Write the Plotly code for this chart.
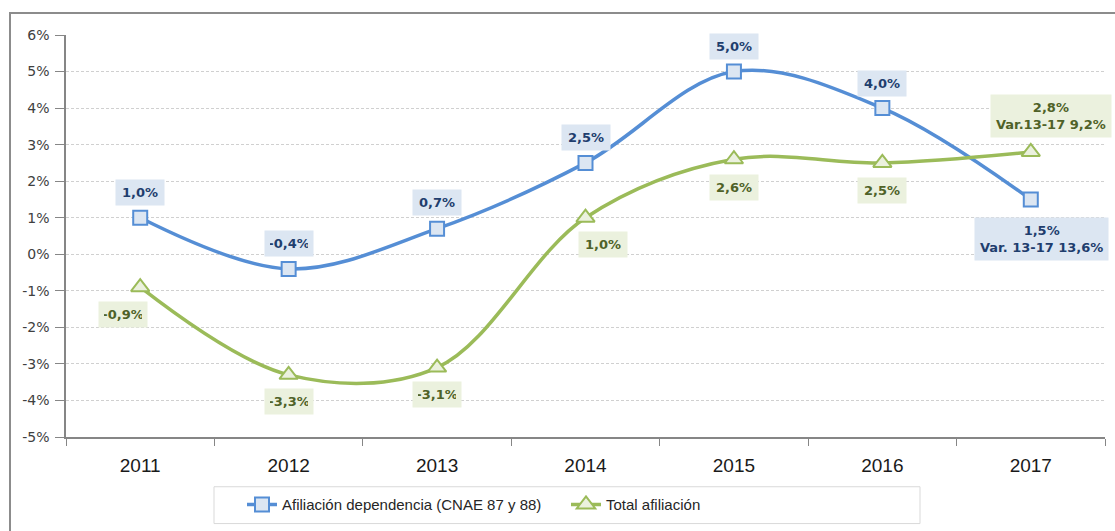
import plotly.graph_objects as go

# Year-over-year change in social security affiliation (%)
years = ["2011", "2012", "2013", "2014", "2015", "2016", "2017"]
dependencia = [1.0, -0.4, 0.7, 2.5, 5.0, 4.0, 1.5]
total = [-0.9, -3.3, -3.1, 1.0, 2.6, 2.5, 2.8]
var_dependencia = 13.6
var_total = 9.2
y_ticks = [-5, -4, -3, -2, -1, 0, 1, 2, 3, 4, 5, 6]

name_dep = "Afiliación dependencia (CNAE 87 y 88)"
name_tot = "Total afiliación"

W, H = 1115, 531
ML, MR, MT, MB = 66, 10, 35, 92
PW, PH = W - ML - MR, H - MT - MB


def px_x(x):
    return (x - ML) / PW


def px_y(y):
    return (H - MB - y) / PH


def fmt(v):
    return f"{v:.1f}".replace(".", ",") + "%"


BLUE = "#558ED5"
BLUE_FILL = "#DCE6F2"
BLUE_TEXT = "#1F3E6E"
GREEN = "#9BBB59"
GREEN_FILL = "#EBF1DE"
GREEN_TEXT = "#4F6228"

fig = go.Figure()
fig.add_trace(go.Scatter(
    x=years, y=dependencia, name=name_dep, mode="lines+markers",
    line=dict(color=BLUE, width=3.5, shape="spline", smoothing=1),
    marker=dict(symbol="square", size=14, color=BLUE_FILL,
                line=dict(color=BLUE, width=2)),
    legend="legend", cliponaxis=False,
))
fig.add_trace(go.Scatter(
    x=years, y=total, name=name_tot, mode="lines+markers",
    line=dict(color=GREEN, width=3.5, shape="spline", smoothing=1),
    marker=dict(symbol="triangle-up", size=16, color=GREEN_FILL,
                line=dict(color=GREEN, width=2)),
    legend="legend2", cliponaxis=False,
))

label_font = dict(family="DejaVu Sans", size=13)

# value labels: blue above the markers, green below
dep_shift = [(0, 25), (0, 25), (0, 26), (0, 25), (0, 25), (0, 25), (11, -40)]
tot_shift = [(-17, -27), (0, -27), (0, -27), (17, -27), (0, -28), (0, -28), (20, 36)]

last = len(years) - 1
for i, v in enumerate(dependencia):
    txt = fmt(v)
    box = dict(width=38)
    if i == last:
        txt = f"{fmt(v)}<br>Var. 13-17 {fmt(var_dependencia)}"
        box = {}
    fig.add_annotation(
        x=i, y=v, xref="x", yref="y", text=f"<b>{txt}</b>", showarrow=False,
        xshift=dep_shift[i][0], yshift=dep_shift[i][1],
        bgcolor=BLUE_FILL, borderpad=5, align="center",
        font=dict(color=BLUE_TEXT, **label_font), **box,
    )

for i, v in enumerate(total):
    txt = fmt(v)
    box = dict(width=38)
    if i == last:
        txt = f"{fmt(v)}<br>Var.13-17 {fmt(var_total)}"
        box = {}
    fig.add_annotation(
        x=i, y=v, xref="x", yref="y", text=f"<b>{txt}</b>", showarrow=False,
        xshift=tot_shift[i][0], yshift=tot_shift[i][1],
        bgcolor=GREEN_FILL, borderpad=5, align="center",
        font=dict(color=GREEN_TEXT, **label_font), **box,
    )

# outer chart frame and legend box
fig.add_shape(type="rect", xref="paper", yref="paper",
              x0=px_x(10), x1=px_x(1125), y0=px_y(545), y1=px_y(13),
              line=dict(color="#8C8C8C", width=2), layer="below")
fig.add_shape(type="rect", xref="paper", yref="paper",
              x0=px_x(214), x1=px_x(920), y0=px_y(526), y1=px_y(489),
              line=dict(color="#D9D9D9", width=1), layer="below")

legend_common = dict(
    orientation="h", xanchor="left", yanchor="middle",
    bgcolor="rgba(0,0,0,0)", borderwidth=0,
    font=dict(family="Liberation Sans", size=15, color="#262626"),
    itemwidth=30,
)

fig.update_layout(
    width=W, height=H,
    margin=dict(l=ML, r=MR, t=MT, b=MB),
    paper_bgcolor="white", plot_bgcolor="white",
    showlegend=True,
    legend=dict(x=px_x(242), y=px_y(507), **legend_common),
    legend2=dict(x=px_x(566), y=px_y(507), **legend_common),
    xaxis=dict(
        type="category", range=[-0.5, 6.5], tickson="boundaries",
        showline=True, linecolor="#868686", linewidth=1.5,
        ticks="outside", ticklen=7, tickcolor="#868686", tickwidth=1,
        ticklabelstandoff=10,
        showgrid=False,
        tickfont=dict(family="Liberation Sans", size=19, color="#1A1A1A"),
    ),
    yaxis=dict(
        range=[-5, 6], tickvals=y_ticks, ticktext=[f"{t}%" for t in y_ticks],
        showline=True, linecolor="#868686", linewidth=1.5,
        ticks="outside", ticklen=9, tickcolor="#868686",
        ticklabelstandoff=3,
        showgrid=True, gridcolor="#D0D0D0", gridwidth=1, griddash="3px,2px",
        zeroline=False,
        tickfont=dict(family="DejaVu Sans", size=14, color="#404040"),
    ),
)

fig.write_html("out.html")
